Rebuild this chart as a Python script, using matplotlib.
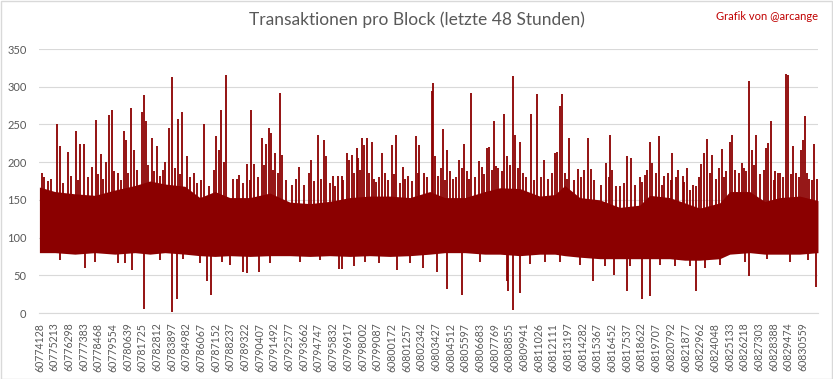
import matplotlib
matplotlib.use("Agg")
import matplotlib.pyplot as plt
import numpy as np
from matplotlib.patches import Rectangle

plt.rcParams['font.family'] = ['Lato', 'DejaVu Sans']

# ---------------- data ----------------
first_block = 60774128
last_block = 60831680

tick_labels = [
    60774128, 60775213, 60776298, 60777383, 60778468, 60779554, 60780639,
    60781725, 60782812, 60783897, 60784982, 60786067, 60787152, 60788237,
    60789322, 60790407, 60791492, 60792577, 60793662, 60794747, 60795832,
    60796917, 60798002, 60799087, 60800172, 60801257, 60802342, 60803427,
    60804512, 60805597, 60806683, 60807769, 60808855, 60809941, 60811026,
    60812111, 60813197, 60814282, 60815367, 60816452, 60817537, 60818622,
    60819707, 60820792, 60821877, 60822962, 60824048, 60825133, 60826218,
    60827303, 60828388, 60829474, 60830559,
]

# dense core of the series (block offset, upper edge, lower edge)
core_off = [0, 1145, 2623, 4101, 5579, 7057, 8166, 9274, 10752, 11861, 12969,
            14078, 15556, 17034, 18512, 19990, 21468, 22946, 24424, 25902,
            27380, 28858, 29966, 31444, 32922, 34030, 35508, 36986, 38095,
            38834, 39943, 41421, 42899, 44377, 45116, 46594, 47703, 48811,
            50289, 51028, 52506, 53615, 54723, 56201, 57550]
core_hi = [167, 161, 158, 156, 163, 169, 175, 171, 168, 153, 161, 153, 153,
           159, 147, 145, 148, 153, 155, 155, 153, 161, 153, 153, 161, 166,
           165, 155, 157, 169, 153, 150, 140, 143, 156, 153, 146, 139, 146,
           161, 161, 148, 153, 155, 149]
core_lo = [80, 80, 78, 80, 78, 80, 78, 80, 78, 76, 75, 76, 75, 76, 76, 75, 76,
           75, 76, 75, 76, 78, 80, 80, 78, 78, 76, 78, 78, 76, 74, 72, 72, 72,
           72, 72, 70, 70, 72, 78, 80, 78, 78, 78, 80]

# upward peaks (block offset, transactions)
up_off = [185, 628, 1271, 1493, 2128, 2675, 2993, 3311, 3858, 4153, 4523,
          4892, 5158, 5380, 5823, 6267, 6415, 6784, 6961, 7597, 7745, 7893,
          8292, 8661, 9274, 9592, 9814, 10213, 10531, 10922, 11418, 12179,
          13043, 13243, 13435, 13805, 14617, 14765, 15356, 15652, 15852,
          16443, 16738, 16982, 17130, 17426, 17795, 17921, 19177, 19916,
          20064, 20603, 21047, 21150, 21837, 22081, 22333, 22746, 22872,
          23116, 23441, 23559, 23811, 24003, 24202, 24550, 24867, 25333,
          25532, 26072, 26345, 26885, 27254, 27801, 28067, 28437, 28984,
          29102, 29205, 29649, 29796, 30136, 30580, 30979, 31245, 31393,
          31570, 31910, 32479, 32701, 33092, 33240, 33610, 33905, 34349,
          34570, 35014, 35162, 35509, 35753, 36344, 36787, 37283, 38095,
          38243, 38492, 38634, 38887, 39152, 39817, 40261, 40556, 40756,
          41864, 42182, 42330, 42899, 43438, 43734, 44547, 44746, 45138,
          45286, 45781, 46054, 46468, 46793, 47207, 47543, 47872, 48124,
          48567, 48907, 49129, 49350, 49720, 50237, 50459, 50784, 51028,
          51198, 51715, 51915, 52262, 52454, 52705, 53001, 53740, 53888,
          54080, 54390, 54723, 55218, 55314, 55706, 55957, 56327, 56445,
          56593, 56888, 57287, 57479]
up_val = [185, 175, 250, 221, 214, 241, 224, 224, 194, 256, 211,
          200, 263, 269, 185, 241, 230, 272, 216, 267, 289, 254,
          232, 221, 200, 245, 313, 257, 267, 208, 185, 250,
          234, 216, 269, 316, 177, 183, 197, 269, 197,
          232, 224, 245, 239, 212, 292, 210, 194, 185,
          203, 236, 230, 208, 168, 181, 181, 212, 203,
          210, 219, 205, 232, 223, 232, 227, 174, 212,
          185, 223, 236, 194, 181, 234, 223, 185, 294,
          305, 208, 192, 244, 216, 177, 203, 192, 224,
          188, 292, 201, 194, 219, 220, 254, 192, 264,
          208, 314, 236, 227, 185, 264, 291, 203, 212,
          214, 274, 291, 186, 232, 191, 190, 232, 191,
          199, 236, 190, 168, 208, 205, 174, 183, 227,
          199, 234, 170, 185, 212, 190, 181, 192, 163,
          168, 197, 212, 231, 210, 192, 217, 188, 227,
          236, 185, 199, 188, 308, 216, 236, 219, 225,
          254, 188, 185, 317, 315, 221, 185, 216, 229,
          261, 177, 224, 177]

# smaller peaks just above the dense core
mid_off = [333, 850, 1737, 2328, 2845, 3584, 4323, 4693, 5506, 6023, 6540,
           7205, 8018, 8462, 8905, 9127, 10013, 10383, 11122, 11639, 11935,
           12526, 12896, 13635, 14300, 15039, 15556, 16147, 16591, 17256,
           17625, 18216, 18660, 18955, 19546, 20286, 20803, 21468, 21690,
           22429, 23242, 23685, 24350, 24720, 25089, 25754, 26197, 26641,
           27010, 27527, 27971, 28636, 29449, 29966, 30336, 30779, 31740,
           32183, 32849, 33440, 33735, 34179, 34770, 35361, 35952, 36544,
           37061, 37578, 37874, 38982, 39500, 40017, 40978, 41495, 42086,
           42603, 43195, 44007, 44377, 44895, 45559, 46151, 46674, 47037,
           47628, 48293, 48736, 49550, 49993, 50585, 51398, 52063, 52802,
           53245, 53541, 54280, 54576, 54946, 55535, 56128, 56719, 57087]
mid_val = [180, 178, 172, 182, 176, 180, 184, 178, 188, 176, 186,
           190, 196, 188, 182, 190, 192, 184, 180, 172, 176,
           168, 190, 200, 178, 172, 176, 180, 196, 190,
           186, 176, 170, 178, 170, 175, 178, 172, 182,
           176, 186, 190, 185, 178, 180, 176, 184, 172,
           178, 175, 186, 180, 182, 176, 188, 180, 178,
           180, 184, 190, 195, 188, 196, 192, 180, 176,
           180, 178, 186, 178, 176, 180, 176, 170, 180,
           168, 172, 170, 180, 190, 186, 182, 176, 180,
           174, 170, 180, 186, 178, 180, 190, 192, 196,
           184, 190, 176, 186, 180, 184, 180, 186, 176]

# downward dips (block offset, transactions)
down_off = [3385, 6318, 6858, 7745, 9814, 10161, 10627, 12356, 12652, 13465,
            15016, 15312, 16243, 22133, 22333, 23264, 25111, 26441, 28363,
            29397, 30136, 31274, 34570, 34674, 35014, 35561, 36248, 37356,
            40926, 42478, 43438, 44547, 45138, 48515, 52454, 53784, 57435,
            1515, 4101, 5801, 8905, 11861, 14078, 17034, 19251, 20729, 24054,
            27380, 32553, 38465, 39943, 41790, 43638, 45855, 46963, 48072,
            49180, 50289, 52136, 55462, 56793]
down_val = [60, 66, 57, 5, 1, 18, 71, 42, 24, 68,
            55, 53, 54, 58, 58, 62, 66, 57, 60,
            54, 32, 24, 42, 29, 4, 26, 65, 67,
            43, 51, 29, 18, 23, 29, 49, 71, 34,
            70, 68, 66, 70, 66, 64, 66, 68, 70, 68,
            66, 68, 68, 64, 62, 62, 64, 62, 62,
            60, 64, 68, 68, 70]

# ---------------- drawing ----------------
W, H = 833, 379
fig = plt.figure(figsize=(W / 100, H / 100), dpi=100)
ax = fig.add_axes([39 / W, 1 - 313 / H, (818 - 39) / W, (313 - 49) / H])

red = '#8b0000'
lw = 1.3
cx = first_block + np.array(core_off)
ax.fill_between(cx, core_lo, core_hi, color=red, lw=0, zorder=3)
ux = first_block + np.array(up_off)
ax.vlines(ux, 110, up_val, color=red, lw=lw, zorder=3)
mx = first_block + np.array(mid_off)
ax.vlines(mx, 110, mid_val, color=red, lw=lw, zorder=3)
dx = first_block + np.array(down_off)
ax.vlines(dx, down_val, 100, color=red, lw=lw, zorder=3)

ax.set_xlim(first_block - 30, last_block)
ax.set_ylim(0, 350)
ax.set_yticks(np.arange(0, 351, 50))
ax.set_xticks(tick_labels)
ax.set_xticklabels([str(t) for t in tick_labels], rotation=90, va='top',
                   ha='center')
ax.tick_params(axis='x', length=0, pad=7, labelsize=7.6, colors='#595959')
ax.tick_params(axis='y', length=0, pad=9, labelsize=8, colors='#595959')
ax.grid(axis='y', color='#d9d9d9', lw=0.8, zorder=0)
ax.set_axisbelow(True)
for s in ['top', 'right', 'left']:
    ax.spines[s].set_visible(False)
ax.spines['bottom'].set_color('#d9d9d9')
ax.spines['bottom'].set_linewidth(0.8)

fig.text(0.5, 1 - 20 / H, 'Transaktionen pro Block (letzte 48 Stunden)',
         ha='center', va='center', fontsize=12.5, color='#595959')
fig.text(818 / W, 1 - 17 / H, 'Grafik von @arcange', ha='right', va='center',
         fontsize=8, color='#c00000')

fig.add_artist(Rectangle((0.5 / W, 0.5 / H), 1 - 1.5 / W, 1 - 1.5 / H,
                         transform=fig.transFigure, fill=False,
                         edgecolor='#d9d9d9', lw=1))

fig.savefig('out.png', dpi=100)
